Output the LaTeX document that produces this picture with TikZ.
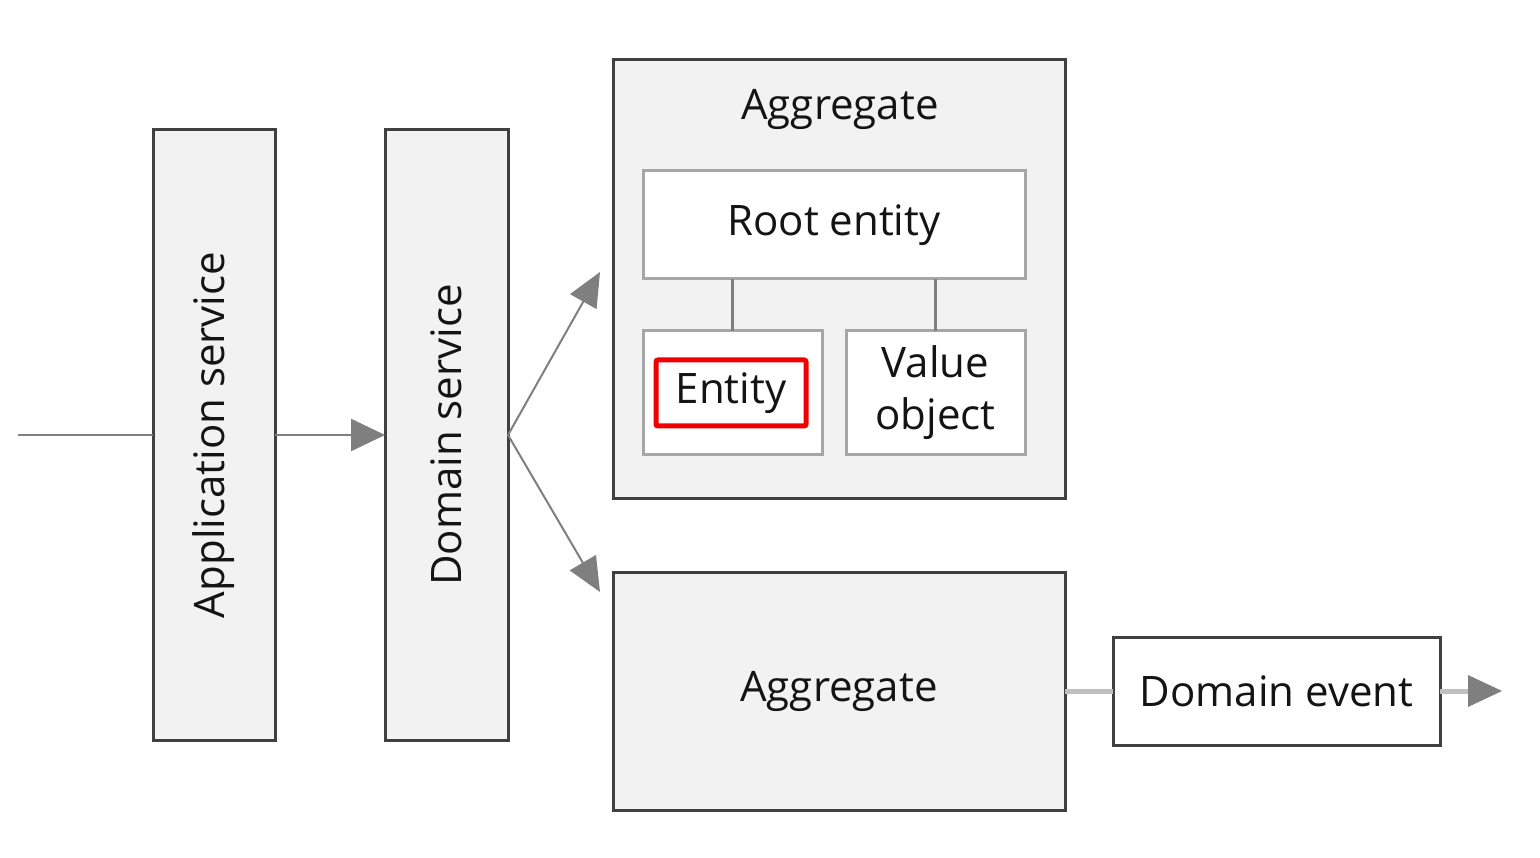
\documentclass[tikz,border=0pt]{standalone}
\usepackage{fontspec}
\setmainfont{Open Sans}
\usetikzlibrary{arrows.meta,calc}
\definecolor{boxfill}{HTML}{F2F2F2}
\definecolor{darkline}{HTML}{404040}
\definecolor{lightline}{HTML}{A6A6A6}
\definecolor{arrowgray}{HTML}{7F7F7F}
\definecolor{paleline}{HTML}{BFBFBF}
\definecolor{txt}{HTML}{141414}
\definecolor{hred}{HTML}{F00000}
\begin{document}
\begin{tikzpicture}[x=1pt,y=-1pt,
  every node/.style={inner sep=0pt,outer sep=0pt,text=txt,font=\fontsize{42}{52}\selectfont},
  outerbox/.style={draw=darkline,line width=3pt,fill=boxfill},
  innerbox/.style={draw=lightline,line width=3pt,fill=white},
  conn/.style={draw=arrowgray,line width=2.5pt},
  arr/.style={conn,-{Triangle[length=34pt,width=32pt]}},
  thinarr/.style={draw=arrowgray,line width=2pt,-{Triangle[length=34pt,width=30pt]}},
  paleconn/.style={draw=paleline,line width=5pt},
  highlight/.style={draw=hred,line width=5pt,rounded corners=2pt}
]
\useasboundingbox (0,0) rectangle (1540,858);

% left services
\node[outerbox,rotate=90,minimum width=610pt,minimum height=122pt] (app) at (214,435) {Application service};
\node[outerbox,rotate=90,minimum width=610pt,minimum height=123pt] (ds) at (446.5,435) {Domain service};

\coordinate (in) at (18,435);
\draw[conn] (in) -- (app.north);
\draw[arr] (app.south) -- (ds.north);

% top aggregate
\node[outerbox,minimum width=452pt,minimum height=438pt] (agg1) at (839,279) {};
\node (agg1t) at (840,109) {Aggregate};
\node[innerbox,minimum width=382pt,minimum height=108pt] (root) at (834,225) {Root entity};
\node[innerbox,minimum width=179pt,minimum height=124pt] (ent) at (732.5,393) {};
\node[innerbox,minimum width=179pt,minimum height=124pt,align=center,font=\fontsize{42}{52}\selectfont] (vo) at (935.5,393) {Value\\object};
\node[highlight,minimum width=150pt,minimum height=66pt] (entt) at (731,393) {Entity};
\draw[conn] (root.south -| ent) -- (ent.north);
\draw[conn] (root.south -| vo) -- (vo.north);

% bottom aggregate
\node[outerbox,minimum width=452pt,minimum height=238pt] (agg2) at (839,691) {Aggregate};

% domain event
\node[draw=darkline,line width=3pt,fill=white,minimum width=327pt,minimum height=108pt] (ev) at (1276.5,691) {Domain event};
\coordinate (out) at (1502,691);
\draw[paleconn] (agg2.east |- ev.west) -- (ev.west);
\draw[paleconn,shorten >=30pt] (ev.east) -- (out);
\draw[draw=none,fill=arrowgray] (out) -- ++(-34,-16) -- ++(0,32) -- cycle;

% arrows to aggregates
\coordinate (t1) at (600,272);
\coordinate (t2) at (600,592);
\draw[thinarr] (ds.south) -- (t1);
\draw[thinarr] (ds.south) -- (t2);
\end{tikzpicture}
\end{document}
